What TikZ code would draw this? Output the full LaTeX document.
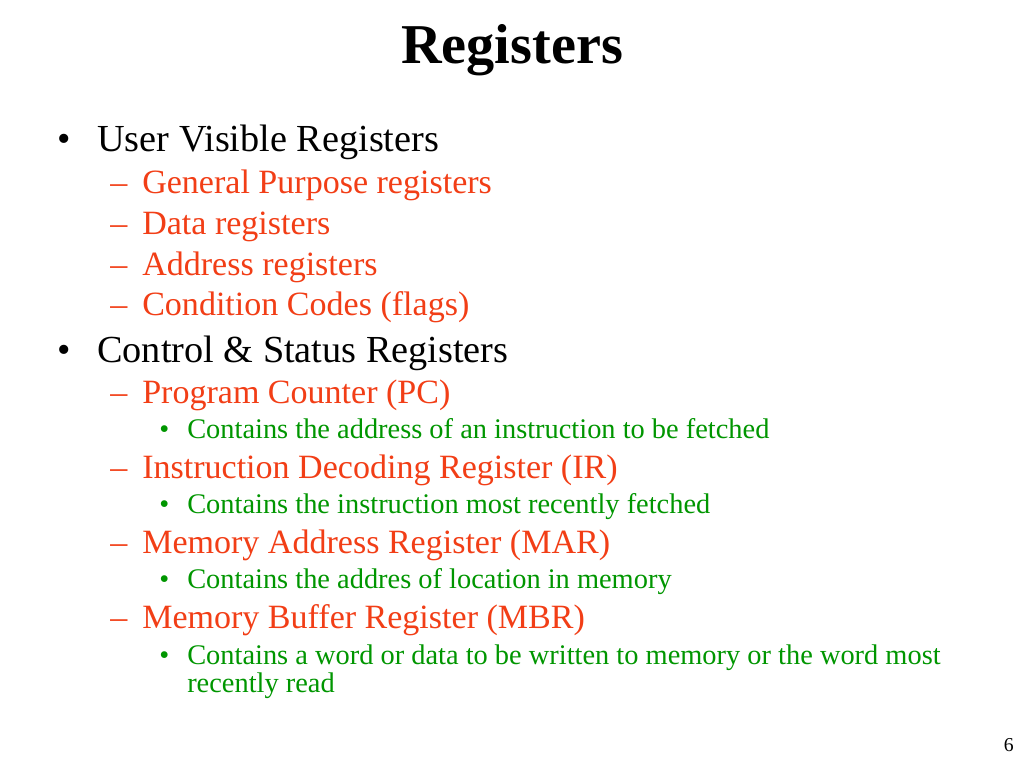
\documentclass[tikz,border=0pt]{standalone}
\usepackage{fontspec}
\setmainfont{Liberation Serif}
\usetikzlibrary{positioning}

\definecolor{itemred}{RGB}{242,62,22}
\definecolor{notegreen}{RGB}{0,150,0}

\tikzset{
  every node/.style = {inner sep=0pt, anchor=base west},
  lvlone/.style   = {font=\fontsize{27.2}{30}\selectfont, text=black},
  lvltwo/.style   = {font=\fontsize{24.2}{27}\selectfont, text=itemred},
  lvlthree/.style = {font=\fontsize{20.2}{22}\selectfont, text=notegreen},
}

\begin{document}
\begin{tikzpicture}[x=0.025cm, y=-0.025cm]
                \useasboundingbox[fill=white] (0,0) rectangle (1024,768);

                % Title:
                \node [font=\fontsize{40}{44}\bfseries\selectfont, anchor=base] (title) at (512,64) {Registers};

                % User visible registers:
                \node [lvlone] (uvrdot) at (57,151) {•};
                \node [lvlone] (uvr)    at (97,151) {User Visible Registers};
                \node [lvltwo] (gprdash) at (110,193) {–};
                \node [lvltwo] (gpr)     at (142,193) {General Purpose registers};
                \node [lvltwo] (drdash)  at (110,234) {–};
                \node [lvltwo] (dr)      at (142,234) {Data registers};
                \node [lvltwo] (ardash)  at (110,275) {–};
                \node [lvltwo] (ar)      at (142,275) {Address registers};
                \node [lvltwo] (ccdash)  at (110,315) {–};
                \node [lvltwo] (cc)      at (142,315) {Condition Codes (flags)};

                % Control & status registers:
                \node [lvlone] (csrdot) at (57,362) {•};
                \node [lvlone] (csr)    at (97,362) {Control \& Status Registers};

                \node [lvltwo]   (pcdash)    at (110,403) {–};
                \node [lvltwo]   (pc)        at (142,403) {Program Counter (PC)};
                \node [lvlthree] (pcnotedot) at (159,438) {•};
                \node [lvlthree] (pcnote)    at (187,438) {Contains the address of an instruction to be fetched};

                \node [lvltwo]   (irdash)    at (110,478) {–};
                \node [lvltwo]   (ir)        at (142,478) {Instruction Decoding Register (IR)};
                \node [lvlthree] (irnotedot) at (159,513) {•};
                \node [lvlthree] (irnote)    at (187,513) {Contains the instruction most recently fetched};

                \node [lvltwo]   (mardash)    at (110,553) {–};
                \node [lvltwo]   (mar)        at (142,553) {Memory Address Register (MAR)};
                \node [lvlthree] (marnotedot) at (159,588) {•};
                \node [lvlthree] (marnote)    at (187,588) {Contains the addres of location in memory};

                \node [lvltwo]   (mbrdash)    at (110,628) {–};
                \node [lvltwo]   (mbr)        at (142,628) {Memory Buffer Register (MBR)};
                \node [lvlthree] (mbrnotedot) at (159,664) {•};
                \node [lvlthree] (mbrnote)    at (187,664) {Contains a word or data to be written to memory or the word most};
                \node [lvlthree] (mbrnotetwo) at (187,692) {recently read};

                % Page number:
                \node [font=\fontsize{14}{16}\selectfont, anchor=base east] (page) at (1014,751) {6};
            \end{tikzpicture}
\end{document}
